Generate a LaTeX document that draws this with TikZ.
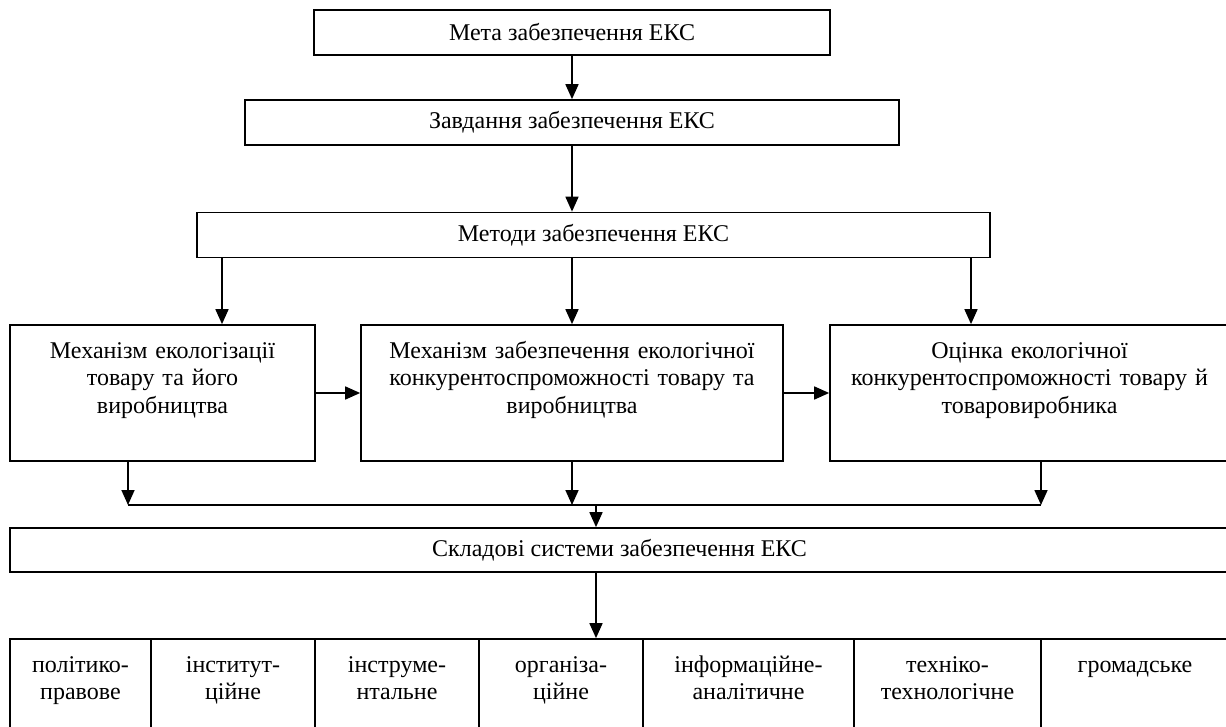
\documentclass[tikz,border=0pt]{standalone}
\usepackage{fontspec}
\setmainfont{Liberation Serif}
\usetikzlibrary{arrows.meta}

\begin{document}
\begin{tikzpicture}[x=0.5pt, y=-0.5pt, line width=0.85pt,
  >={Triangle[length=7.5pt, width=6.5pt]},
  every node/.style={font=\fontsize{12}{13.8}\selectfont, inner sep=0pt},
  blk/.style={draw, rectangle, minimum height=22.5pt},
  tall/.style={draw, rectangle, minimum height=68pt},
  cell/.style={draw, rectangle, minimum height=50.5pt},
  txt/.style={anchor=base, align=center}]
\useasboundingbox (0,0) rectangle (1226,727);

\node[blk, minimum width=258pt] (meta) at (572,32.5) {Мета забезпечення ЕКС};
\node[blk, minimum width=327pt] (zavd) at (572,122.5) {Завдання забезпечення ЕКС};
\node[blk, minimum width=396.5pt] (metody) at (593.5,235) {Методи забезпечення ЕКС};

\node[tall, minimum width=152.5pt] (mech) at (162.5,393) {};
\node[tall, minimum width=211pt] (mechkon) at (572,393) {};
\node[tall, minimum width=199.5pt] (ocinka) at (1029.5,393) {};
\node[txt, text width=150pt] (tmech) at ([yshift=-17pt]mech.north) {Механізм екологізації\\товару та його\\виробництва};
\node[txt, text width=209pt] (tmechkon) at ([yshift=-17pt]mechkon.north) {Механізм забезпечення екологічної\\конкурентоспроможності товару та\\виробництва};
\node[txt, text width=197pt] (tocinka) at ([yshift=-17pt]ocinka.north) {Оцінка екологічної\\конкурентоспроможності товару й\\товаровиробника};

\node[blk, minimum width=609.5pt, minimum height=22pt] (sklad) at (619.5,550) {Складові системи забезпечення ЕКС};

\node[cell, minimum width=70.5pt] (polit) at (80.5,689.5) {};
\node[cell, minimum width=82pt] (inst) at (233,689.5) {};
\node[cell, minimum width=82pt] (instr) at (397,689.5) {};
\node[cell, minimum width=82pt] (org) at (561,689.5) {};
\node[cell, minimum width=105.5pt] (inform) at (748.5,689.5) {};
\node[cell, minimum width=93.5pt] (tech) at (947.5,689.5) {};
\node[cell, minimum width=94pt] (gromad) at (1135,689.5) {};
\node[txt, text width=68pt] (tpolit) at ([yshift=-17pt]polit.north) {політико-\\правове};
\node[txt, text width=80pt] (tinst) at ([yshift=-17pt]inst.north) {інститут-\\ційне};
\node[txt, text width=80pt] (tinstr) at ([yshift=-17pt]instr.north) {інструме-\\нтальне};
\node[txt, text width=80pt] (torg) at ([yshift=-17pt]org.north) {організа-\\ційне};
\node[txt, text width=103pt] (tinform) at ([yshift=-17pt]inform.north) {інформаційне-\\аналітичне};
\node[txt, text width=91pt] (ttech) at ([yshift=-17pt]tech.north) {техніко-\\технологічне};
\node[txt, text width=92pt] (tgromad) at ([yshift=-17pt]gromad.north) {громадське};

\coordinate (xa) at (222,0);
\coordinate (xb) at (971,0);
\coordinate (xc) at (128,0);
\coordinate (xd) at (1041,0);
\coordinate (xe) at (596,0);
\coordinate (bus) at (0,505);

\draw[->] (meta.south) -- (meta.south |- zavd.north);
\draw[->] (zavd.south) -- (zavd.south |- metody.north);
\draw[->] (metody.south -| xa) -- (mech.north -| xa);
\draw[->] (metody.south -| mechkon.north) -- (mechkon.north);
\draw[->] (metody.south -| xb) -- (ocinka.north -| xb);
\draw[->] (mech.east) -- (mechkon.west);
\draw[->] (mechkon.east) -- (ocinka.west);
\draw[->] (mech.south -| xc) -- (bus -| xc);
\draw[->] (mechkon.south) -- (bus -| mechkon.south);
\draw[->] (ocinka.south -| xd) -- (bus -| xd);
\draw (bus -| xc) -- (bus -| xd);
\draw[->] (bus -| xe) -- (sklad.north -| xe);
\draw[->] (sklad.south -| xe) -- (org.north -| xe);
\end{tikzpicture}
\end{document}
